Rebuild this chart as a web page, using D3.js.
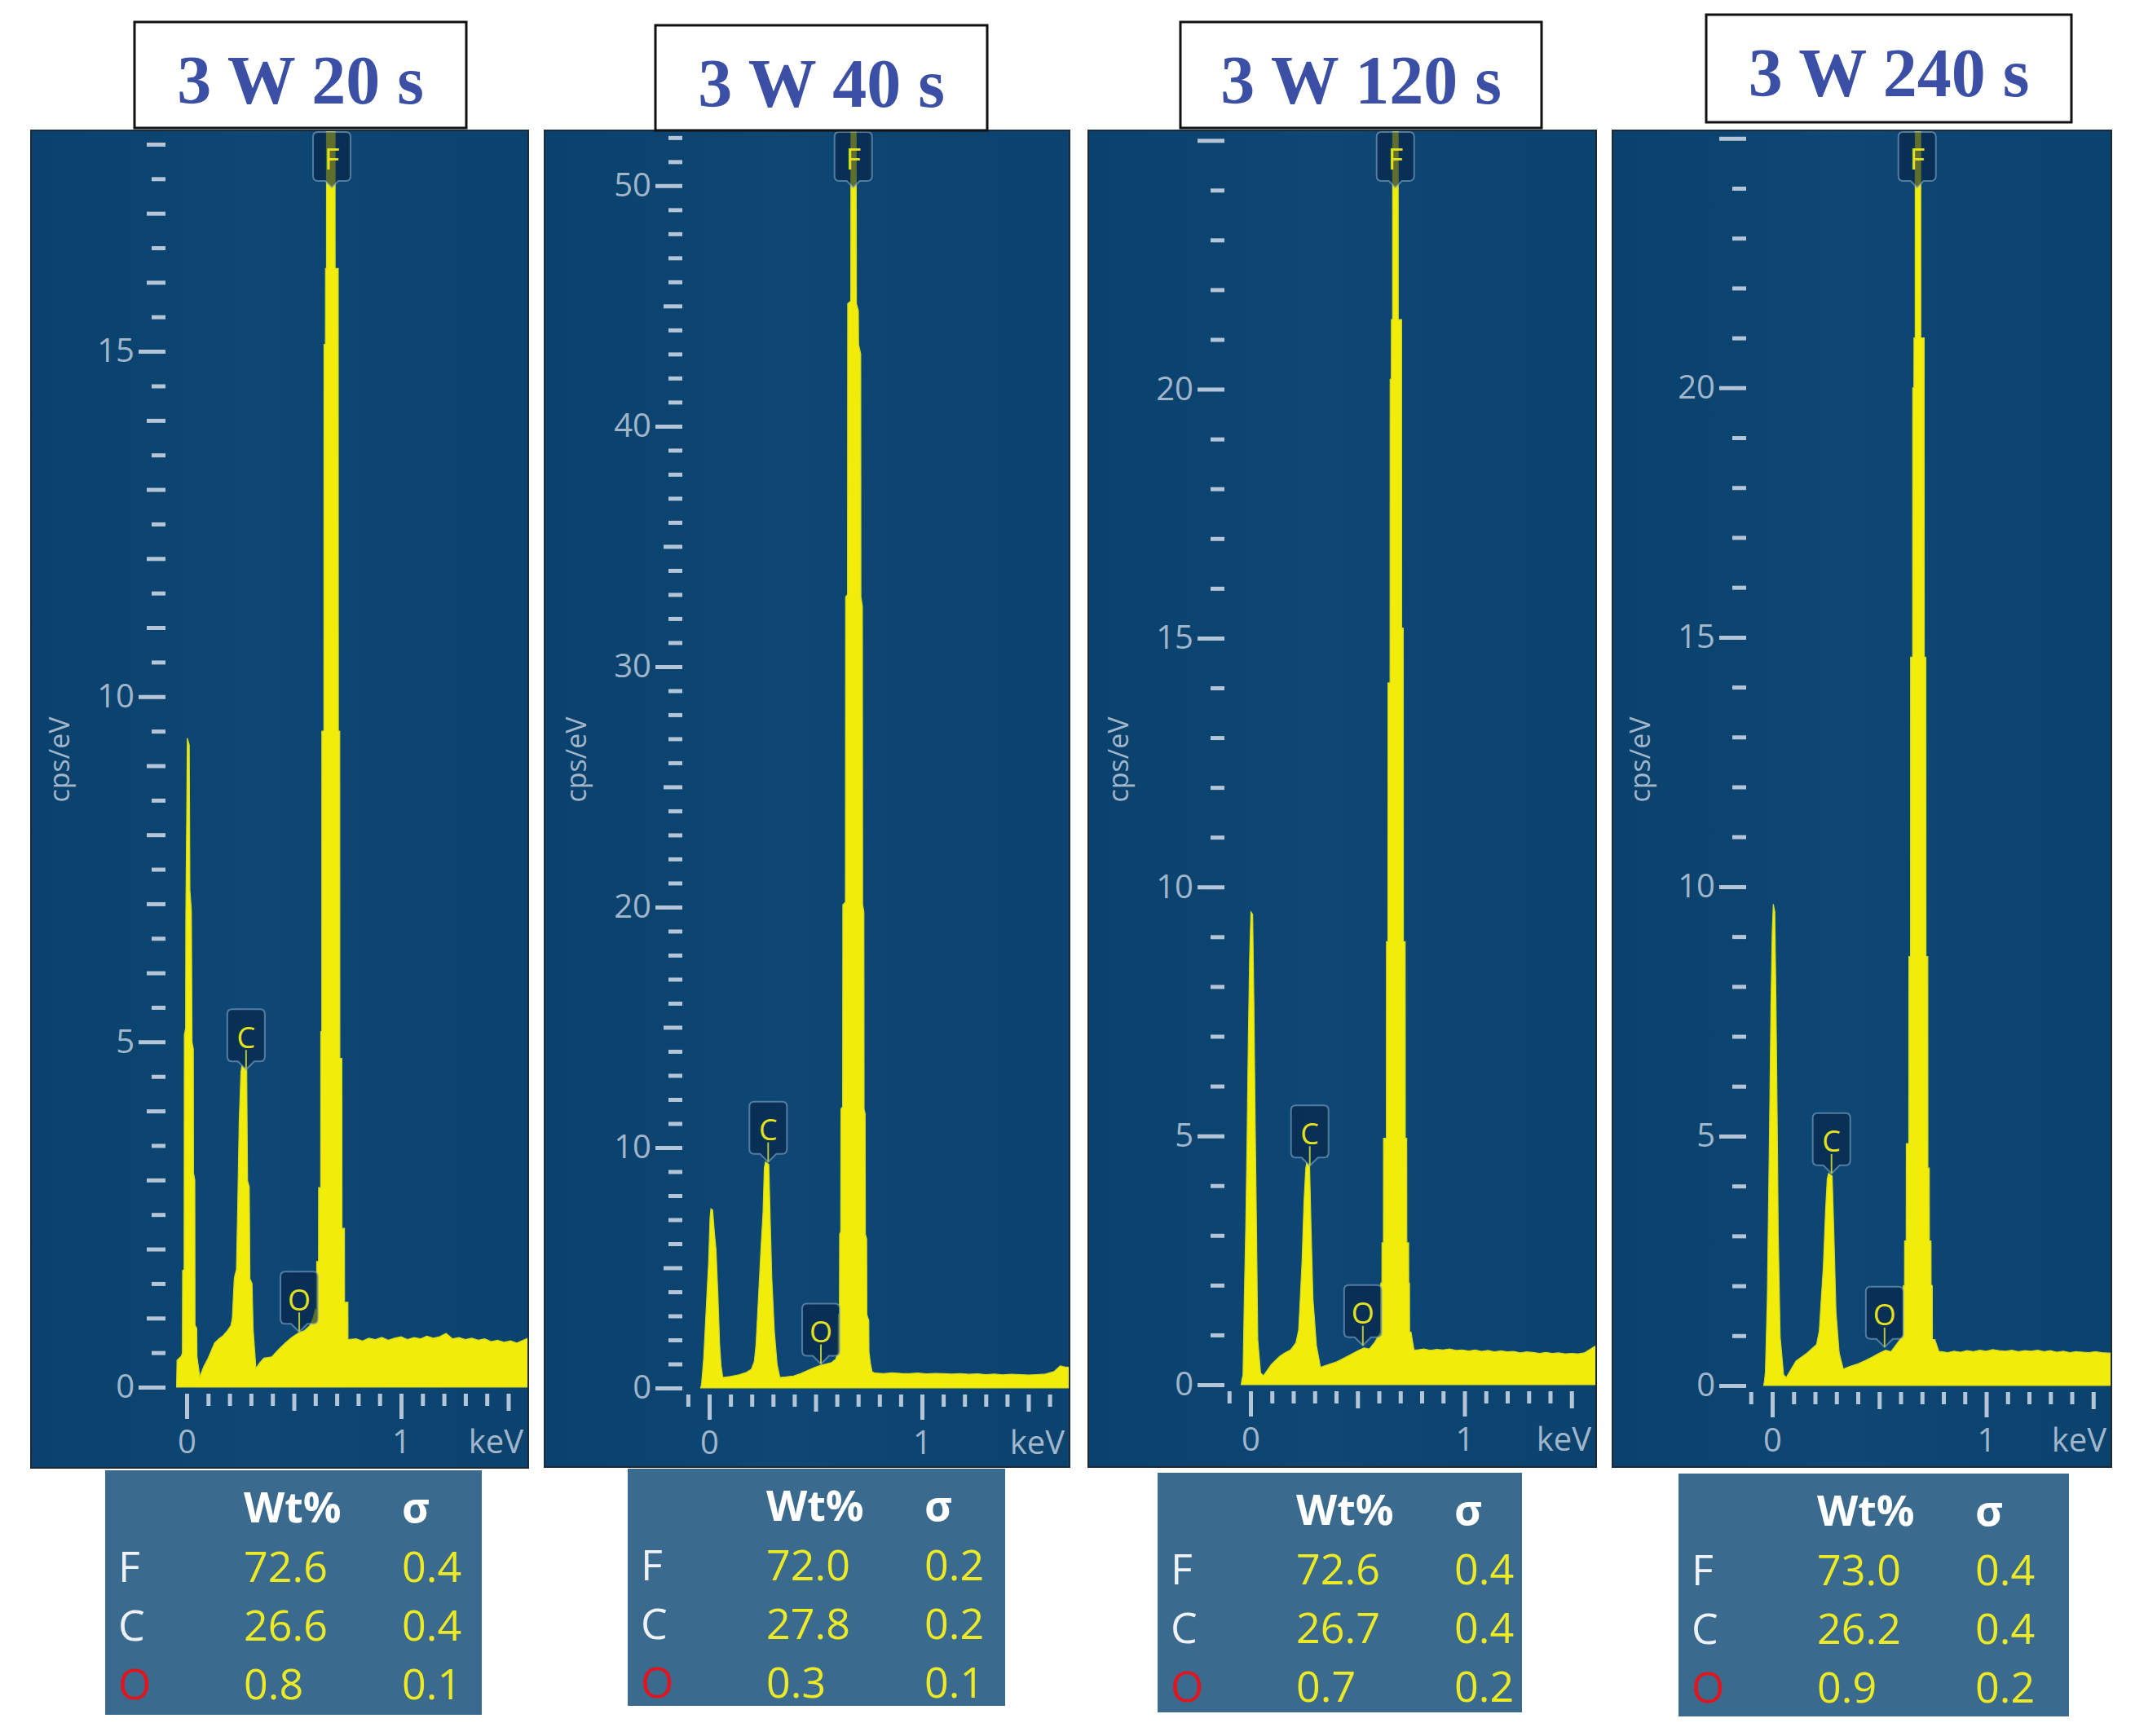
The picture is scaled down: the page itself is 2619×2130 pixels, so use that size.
<!DOCTYPE html>
<html>
<head>
<meta charset="utf-8">
<script src="https://cdnjs.cloudflare.com/ajax/libs/d3/7.8.5/d3.min.js"></script>
<style>
  html, body { margin: 0; padding: 0; background: #ffffff; }
  svg { display: block; }
</style>
</head>
<body>
<svg id="chart" width="2619" height="2130"></svg>
<script>
// ---- data ----
var titles = ["3 W 20 s", "3 W 40 s", "3 W 120 s", "3 W 240 s"];
var elements = ["F", "C", "O"];
var lineEnergy = [0.677, 0.277, 0.525];          // F, C, O K-alpha (keV)
var wtPct = [[72.6, 26.6, 0.8], [72.0, 27.8, 0.3], [72.6, 26.7, 0.7], [73.0, 26.2, 0.9]];
var sigma = [[0.4, 0.4, 0.1], [0.2, 0.2, 0.1], [0.4, 0.4, 0.2], [0.4, 0.4, 0.2]];

var yMax = [18.2, 52.3, 25.2, 25.16];
var yLabels = [[0, 5, 10, 15], [0, 10, 20, 30, 40, 50], [0, 5, 10, 15, 20], [0, 5, 10, 15, 20]];
var yMajor = [5, 10, 5, 5];
var yMid = [1, 5, 5, 5];
var yMinor = [0.5, 1, 1, 1];
var xLabels = [0, 1];

// label tip heights (cps/eV) for C and O markers
var labelC = [4.6, 9.4, 4.4, 4.25];
var labelO = [0.8, 1.0, 0.79, 0.77];

// 3 W 20 s
var kev20 = [-0.047, -0.045, -0.025, -0.020, -0.019, -0.012, -0.011, -0.005, -0.004, 0.000, 0.003, 0.012, 0.015, 0.022, 0.025, 0.031, 0.032, 0.038, 0.039, 0.047, 0.048, 0.061,
  0.080, 0.100, 0.130, 0.150, 0.168, 0.190, 0.206, 0.213, 0.222,
  0.225, 0.232, 0.238, 0.245, 0.253, 0.257, 0.270, 0.280, 0.284, 0.292, 0.295, 0.305, 0.310, 0.323,
  0.340, 0.360, 0.397, 0.430, 0.460, 0.490, 0.524, 0.550, 0.574, 0.590, 0.600,
  0.606, 0.6065, 0.615, 0.6155, 0.625, 0.6255, 0.630, 0.6305, 0.640, 0.6405, 0.647, 0.6475, 0.652, 0.6525,
  0.692, 0.6925, 0.707, 0.7075, 0.714, 0.7145, 0.724, 0.7245, 0.736, 0.7365, 0.752, 0.7525,
  0.79, 0.82, 0.85, 0.88, 0.91, 0.94, 0.97, 1.00, 1.03, 1.06, 1.09, 1.12, 1.15, 1.18, 1.21, 1.24, 1.27, 1.30, 1.33, 1.36, 1.39, 1.42, 1.45, 1.48, 1.51, 1.54, 1.57, 1.60];
var cps20 = [0, 0.39, 0.45, 0.50, 1.69, 1.70, 5.10, 5.20, 6.80, 8.20, 9.40, 9.30, 7.20, 6.90, 5.00, 4.90, 3.10, 3.00, 0.90, 0.85, 0.45, 0.15,
  0.30, 0.42, 0.64, 0.70, 0.74, 0.82, 0.89, 1.00, 1.57,
  1.62, 1.70, 2.60, 3.85, 4.56, 4.65, 4.62, 4.60, 2.99, 2.90, 1.57, 1.50, 0.84, 0.27,
  0.35, 0.42, 0.44, 0.55, 0.64, 0.72, 0.79, 0.82, 0.89, 1.00, 1.13,
  1.13, 1.82, 1.82, 2.89, 2.89, 5.15, 5.15, 9.50, 9.50, 15.1, 15.1, 16.2, 16.2, 21.0,
  21.0, 16.2, 16.2, 9.50, 9.50, 4.76, 4.76, 2.30, 2.30, 1.23, 1.23, 0.69,
  0.70, 0.67, 0.71, 0.69, 0.72, 0.68, 0.71, 0.73, 0.69, 0.72, 0.70, 0.74, 0.71, 0.73, 0.78, 0.70, 0.72, 0.69, 0.71, 0.68, 0.70, 0.66, 0.68, 0.65, 0.67, 0.64, 0.68, 0.72];

// 3 W 40 s
var kev40 = [-0.040, -0.036, -0.026, -0.013, -0.003, 0.004, 0.008, 0.016, 0.024, 0.032, 0.041, 0.049, 0.056, 0.064,
  0.100, 0.140, 0.175, 0.198, 0.212,
  0.220, 0.230, 0.243, 0.253, 0.259, 0.264, 0.280, 0.287, 0.294, 0.306, 0.319, 0.332,
  0.360, 0.396, 0.430, 0.460, 0.495, 0.524, 0.550, 0.575, 0.595, 0.600,
  0.606, 0.607, 0.612, 0.613, 0.618, 0.619, 0.627, 0.628, 0.640, 0.641, 0.650, 0.651, 0.665, 0.667,
  0.690, 0.692, 0.701, 0.702, 0.712, 0.713, 0.720, 0.721, 0.727, 0.728, 0.733, 0.734, 0.740, 0.741, 0.750, 0.751, 0.758, 0.766,
  0.78, 0.82, 0.86, 0.90, 0.94, 0.98, 1.02, 1.06, 1.10, 1.14, 1.18, 1.22, 1.26, 1.30, 1.34, 1.38, 1.42, 1.46, 1.50, 1.54, 1.58, 1.62, 1.65, 1.67, 1.70];
var cps40 = [0, 0.17, 1.23, 3.50, 5.20, 7.10, 7.45, 7.40, 6.50, 5.75, 3.83, 1.80, 0.90, 0.44,
  0.48, 0.55, 0.65, 0.78, 1.10,
  1.80, 3.50, 5.75, 7.30, 9.15, 9.40, 9.30, 6.90, 4.60, 2.37, 1.00, 0.44,
  0.46, 0.50, 0.60, 0.72, 0.85, 0.95, 1.00, 1.06, 1.20, 1.36,
  1.40, 3.05, 3.10, 6.40, 6.50, 11.6, 11.7, 20.1, 20.2, 32.9, 33.0, 45.1, 45.2, 56.0,
  56.0, 45.1, 44.8, 43.4, 43.0, 32.9, 32.5, 20.1, 19.8, 11.6, 11.4, 6.40, 6.20, 3.05, 2.80, 1.50, 1.00, 0.67,
  0.62, 0.60, 0.63, 0.61, 0.60, 0.62, 0.59, 0.61, 0.60, 0.58, 0.60, 0.57, 0.59, 0.56, 0.58, 0.55, 0.57, 0.56, 0.54, 0.56, 0.58, 0.68, 0.92, 0.88, 0.85];

// 3 W 120 s
var kev120 = [-0.044, -0.040, -0.035, -0.029, -0.022, -0.016, -0.010, -0.004, 0.002, 0.010, 0.016, 0.022, 0.028, 0.034, 0.047, 0.060,
  0.098, 0.136, 0.160, 0.187, 0.212, 0.225,
  0.231, 0.241, 0.250, 0.258, 0.262, 0.276, 0.283, 0.292, 0.308, 0.327,
  0.360, 0.403, 0.435, 0.466, 0.500, 0.530, 0.555, 0.580, 0.600,
  0.608, 0.6085, 0.614, 0.6145, 0.621, 0.6215, 0.635, 0.6355, 0.642, 0.6425, 0.652, 0.6525, 0.658, 0.6585, 0.664, 0.6645,
  0.690, 0.6905, 0.706, 0.7065, 0.714, 0.7145, 0.723, 0.7235, 0.730, 0.7305, 0.739, 0.7395, 0.743, 0.7435, 0.750, 0.764,
  0.78, 0.81, 0.84, 0.87, 0.90, 0.93, 0.96, 0.99, 1.02, 1.05, 1.08, 1.11, 1.14, 1.17, 1.20, 1.23, 1.26, 1.29, 1.32, 1.35, 1.38, 1.41, 1.44, 1.47, 1.50, 1.53, 1.56, 1.59, 1.62];
var cps120 = [0, 0.10, 0.20, 1.72, 3.20, 4.94, 7.00, 8.60, 9.50, 9.45, 7.60, 5.20, 3.13, 0.90, 0.24, 0.18,
  0.41, 0.57, 0.64, 0.70, 0.84, 1.10,
  1.60, 2.48, 3.68, 4.34, 4.45, 4.40, 3.13, 1.72, 0.79, 0.35,
  0.40, 0.46, 0.53, 0.60, 0.68, 0.74, 0.72, 0.85, 1.00,
  1.06, 2.04, 2.04, 2.85, 2.85, 4.95, 4.95, 8.90, 8.90, 14.1, 14.1, 20.2, 20.2, 21.4, 21.4, 27.0,
  27.0, 21.4, 21.4, 15.2, 15.2, 8.90, 8.90, 4.95, 4.95, 2.85, 2.85, 2.04, 2.04, 1.06, 1.06, 0.70,
  0.70, 0.72, 0.69, 0.71, 0.70, 0.72, 0.69, 0.70, 0.68, 0.70, 0.67, 0.69, 0.66, 0.68, 0.66, 0.67, 0.64, 0.66, 0.65, 0.63, 0.65, 0.63, 0.64, 0.62, 0.63, 0.62, 0.64, 0.72, 0.80];

// 3 W 240 s
var kev240 = [-0.040, -0.036, -0.032, -0.023, -0.013, -0.006, 0.000, 0.005, 0.012, 0.018, 0.024, 0.028, 0.037, 0.053, 0.065,
  0.111, 0.162, 0.207, 0.220,
  0.226, 0.239, 0.249, 0.257, 0.263, 0.280, 0.288, 0.298, 0.313, 0.332,
  0.360, 0.403, 0.435, 0.467, 0.500, 0.530, 0.555, 0.585, 0.607,
  0.612, 0.6125, 0.618, 0.6185, 0.626, 0.6265, 0.638, 0.6385, 0.646, 0.6465, 0.656, 0.6565, 0.662, 0.6625, 0.668, 0.6685,
  0.694, 0.6945, 0.710, 0.7105, 0.718, 0.7185, 0.727, 0.7275, 0.734, 0.7345, 0.742, 0.7425, 0.748, 0.7485, 0.760, 0.779,
  0.79, 0.82, 0.85, 0.88, 0.91, 0.94, 0.97, 1.00, 1.03, 1.06, 1.09, 1.12, 1.15, 1.18, 1.21, 1.24, 1.27, 1.30, 1.33, 1.36, 1.39, 1.42, 1.45, 1.48, 1.51, 1.54, 1.57, 1.60];
var cps240 = [0, 0.10, 0.27, 1.74, 5.00, 7.60, 9.10, 9.65, 9.50, 7.50, 5.00, 3.05, 0.98, 0.22, 0.16,
  0.49, 0.65, 0.82, 1.10,
  1.52, 2.40, 3.49, 4.14, 4.25, 4.20, 3.05, 1.47, 0.65, 0.33,
  0.38, 0.44, 0.50, 0.57, 0.65, 0.71, 0.68, 0.85, 0.98,
  1.00, 2.00, 2.00, 2.90, 2.90, 4.85, 4.85, 8.60, 8.60, 14.6, 14.6, 20.0, 20.0, 21.0, 21.0, 27.0,
  27.0, 21.0, 21.0, 14.6, 14.6, 8.60, 8.60, 4.36, 4.36, 2.90, 2.90, 2.02, 2.00, 0.92, 0.92, 0.68,
  0.68, 0.66, 0.69, 0.67, 0.70, 0.68, 0.71, 0.69, 0.72, 0.70, 0.69, 0.71, 0.68, 0.70, 0.69, 0.71, 0.68, 0.70, 0.67, 0.69, 0.66, 0.68, 0.67, 0.66, 0.68, 0.66, 0.65, 0.66];

var spectra = [[kev20, cps20], [kev40, cps40], [kev120, cps120], [kev240, cps240]];

// ---- layout (pixel boxes of each panel) ----
var panels = [
  {x: 38,   y: 160, w: 610, h: 1641, zeroY: 1702, x0: 229,  x1: 492,    axisX: 203,  title: [165, 27, 407, 130],  table: [129, 1804, 462, 300]},
  {x: 668,  y: 160, w: 644, h: 1640, zeroY: 1703, x0: 870,  x1: 1131,   axisX: 837,  title: [804, 31, 407, 129],  table: [770, 1802, 463, 291]},
  {x: 1335, y: 160, w: 623, h: 1640, zeroY: 1699, x0: 1534, x1: 1796.5, axisX: 1502, title: [1448, 27, 443, 130], table: [1420, 1807, 447, 294]},
  {x: 1978, y: 160, w: 612, h: 1640, zeroY: 1700, x0: 2174, x1: 2436.5, axisX: 2142, title: [2093, 18, 448, 132], table: [2059, 1808, 479, 298]}
];

var tickColor = "#b3c5d6";
var textColor = "#a1b6ca";
var axisFont = "'Open Sans', 'Noto Sans', sans-serif";

var svg = d3.select("#chart");
var defs = svg.append("defs");

var grad = defs.append("linearGradient").attr("id", "bg")
  .attr("x1", "0").attr("x2", "1").attr("y1", "0").attr("y2", "0");
[["0%", "#0a416d"], ["45%", "#0e4774"], ["100%", "#0b426e"]].forEach(function(s){
  grad.append("stop").attr("offset", s[0]).attr("stop-color", s[1]);
});

function near(v, step){ return Math.abs(v / step - Math.round(v / step)) < 1e-6; }

function labelPath(cx, tipY, w, h, p){
  var r = 6, l = cx - w / 2, rt = cx + w / 2, b = tipY - p, t = b - h;
  return "M" + (l + r) + "," + t + "H" + (rt - r) + "Q" + rt + "," + t + " " + rt + "," + (t + r) +
    "V" + (b - r) + "Q" + rt + "," + b + " " + (rt - r) + "," + b +
    "H" + (cx + p) + "L" + cx + "," + tipY + "L" + (cx - p) + "," + b +
    "H" + (l + r) + "Q" + l + "," + b + " " + l + "," + (b - r) +
    "V" + (t + r) + "Q" + l + "," + t + " " + (l + r) + "," + t + "Z";
}

function styleAxis(sel){
  sel.select(".domain").remove();
  sel.selectAll("line").attr("stroke", tickColor).attr("stroke-width", 5);
  sel.selectAll("text").attr("fill", textColor);
  sel.attr("font-family", axisFont).attr("font-size", 40);
}

panels.forEach(function(p, i){
  var g = svg.append("g");

  // panel background
  g.append("rect")
    .attr("x", p.x).attr("y", p.y).attr("width", p.w).attr("height", p.h)
    .attr("fill", "url(#bg)").attr("stroke", "#1d2a36").attr("stroke-width", 2);

  var x = d3.scaleLinear().domain([0, 1]).range([p.x0, p.x1]);
  var y = d3.scaleLinear().domain([0, yMax[i]]).range([p.zeroY, p.y]);

  defs.append("clipPath").attr("id", "clip" + i)
    .append("rect").attr("x", p.x + 1).attr("y", p.y + 1)
    .attr("width", p.w - 2).attr("height", p.zeroY - p.y);

  // spectrum
  var pts = d3.zip(spectra[i][0], spectra[i][1]);
  var area = d3.area()
    .x(function(d){ return x(d[0]); })
    .y0(y(0))
    .y1(function(d){ return y(d[1]); });
  g.append("path").datum(pts)
    .attr("clip-path", "url(#clip" + i + ")")
    .attr("fill", "#f2ec0a").attr("stroke", "#d4dc22").attr("stroke-width", 1.2)
    .attr("d", area);

  // y axis: major / mid / minor ticks
  var yVals = d3.range(0, Math.floor(yMax[i] / yMinor[i] + 1e-6) + 1).map(function(k){ return +(k * yMinor[i]).toFixed(2); });
  var majorY = yVals.filter(function(v){ return near(v, yMajor[i]); });
  var midY = yVals.filter(function(v){ return !near(v, yMajor[i]) && near(v, yMid[i]); });
  var minorY = yVals.filter(function(v){ return !near(v, yMid[i]) && !near(v, yMajor[i]); });

  var yg = g.append("g").attr("transform", "translate(" + p.axisX + ",0)");
  yg.append("g").call(d3.axisLeft(y).tickValues(minorY).tickSize(17).tickFormat("")).call(styleAxis);
  yg.append("g").call(d3.axisLeft(y).tickValues(midY).tickSize(23).tickFormat("")).call(styleAxis);
  yg.append("g").call(d3.axisLeft(y).tickValues(majorY).tickSize(33).tickPadding(5)
    .tickFormat(function(v){ return yLabels[i].indexOf(v) >= 0 ? v : ""; })).call(styleAxis);

  // x axis
  var xVals = d3.range(-1, 18).map(function(k){ return k / 10; })
    .filter(function(v){ return x(v) >= p.axisX + 4 && x(v) <= p.x + p.w - 6; });
  var majorX = xVals.filter(function(v){ return near(v, 1); });
  var midX = xVals.filter(function(v){ return !near(v, 1) && near(v, 0.5); });
  var minorX = xVals.filter(function(v){ return !near(v, 0.5); });

  var xg = g.append("g").attr("transform", "translate(0," + (p.zeroY + 8) + ")");
  xg.append("g").call(d3.axisBottom(x).tickValues(minorX).tickSize(15).tickFormat("")).call(styleAxis);
  xg.append("g").call(d3.axisBottom(x).tickValues(midX).tickSize(21).tickFormat("")).call(styleAxis);
  xg.append("g").call(d3.axisBottom(x).tickValues(majorX).tickSize(31).tickPadding(14)
    .tickFormat(function(v){ return xLabels.indexOf(v) >= 0 ? d3.format("d")(v) : ""; })).call(styleAxis);

  g.append("text")
    .attr("x", p.x + p.w - 6).attr("y", p.zeroY + 8 + 31 + 14 + 28.4)
    .attr("text-anchor", "end").attr("fill", textColor)
    .attr("font-family", axisFont).attr("font-size", 40)
    .text("keV");

  g.append("text")
    .attr("transform", "translate(" + (p.axisX - 131) + ",932) rotate(-90)")
    .attr("text-anchor", "middle").attr("dominant-baseline", "central")
    .attr("fill", textColor).attr("font-family", axisFont).attr("font-size", 34)
    .text("cps/eV");

  // element markers
  var marks = [
    {el: "F", cx: x(lineEnergy[0]), tip: p.y + 70},
    {el: "C", cx: x(lineEnergy[1]), tip: y(labelC[i])},
    {el: "O", cx: x(lineEnergy[2]), tip: y(labelO[i])}
  ];
  marks.forEach(function(m){
    var h = m.el === "F" ? 60 : 64;
    var pp = m.el === "F" ? 8 : 10;
    g.append("path")
      .attr("d", labelPath(m.cx, m.tip, 46, h, pp))
      .attr("fill", "rgba(6,34,66,0.62)")
      .attr("stroke", "rgba(130,170,200,0.6)").attr("stroke-width", 2);
    if (m.el !== "F") {
      g.append("line")
        .attr("x1", m.cx).attr("x2", m.cx)
        .attr("y1", m.tip - pp - 14).attr("y2", m.tip)
        .attr("stroke", "#b7c63a").attr("stroke-width", 2);
    }
    g.append("text")
      .attr("x", m.cx).attr("y", m.tip - pp - h / 2 + 2)
      .attr("text-anchor", "middle").attr("dominant-baseline", "central")
      .attr("fill", "#e4e21e").attr("font-family", axisFont).attr("font-size", 36)
      .text(m.el);
  });

  // title box
  var t = p.title;
  g.append("rect").attr("x", t[0]).attr("y", t[1]).attr("width", t[2]).attr("height", t[3])
    .attr("fill", "#ffffff").attr("stroke", "#111111").attr("stroke-width", 3);
  g.append("text")
    .attr("x", t[0] + t[2] / 2).attr("y", t[1] + 100)
    .attr("text-anchor", "middle")
    .attr("fill", "#3b4fa4")
    .attr("font-family", "'Liberation Serif', 'Times New Roman', serif")
    .attr("font-weight", "bold").attr("font-size", 84)
    .text(titles[i]);

  // quantification table
  var tb = p.table;
  g.append("rect").attr("x", tb[0]).attr("y", tb[1]).attr("width", tb[2]).attr("height", tb[3])
    .attr("fill", "#3a6a8e");
  var tFont = "'Open Sans', 'Noto Sans', sans-serif";
  g.append("text").attr("x", tb[0] + 170).attr("y", tb[1] + 64)
    .attr("fill", "#ffffff").attr("font-family", tFont).attr("font-weight", "bold").attr("font-size", 52)
    .text("Wt%");
  g.append("text").attr("x", tb[0] + 364).attr("y", tb[1] + 64)
    .attr("fill", "#ffffff").attr("font-family", tFont).attr("font-weight", "bold").attr("font-size", 52)
    .text("σ");
  elements.forEach(function(el, r){
    var yy = tb[1] + 137 + r * 72;
    g.append("text").attr("x", tb[0] + 16).attr("y", yy)
      .attr("fill", el === "O" ? "#e3141c" : "#eef2f6")
      .attr("font-family", tFont).attr("font-size", 52)
      .text(el);
    g.append("text").attr("x", tb[0] + 170).attr("y", yy)
      .attr("fill", "#ece925").attr("font-family", tFont).attr("font-size", 52)
      .text(d3.format(".1f")(wtPct[i][r]));
    g.append("text").attr("x", tb[0] + 364).attr("y", yy)
      .attr("fill", "#ece925").attr("font-family", tFont).attr("font-size", 52)
      .text(d3.format(".1f")(sigma[i][r]));
  });
});
</script>
</body>
</html>
